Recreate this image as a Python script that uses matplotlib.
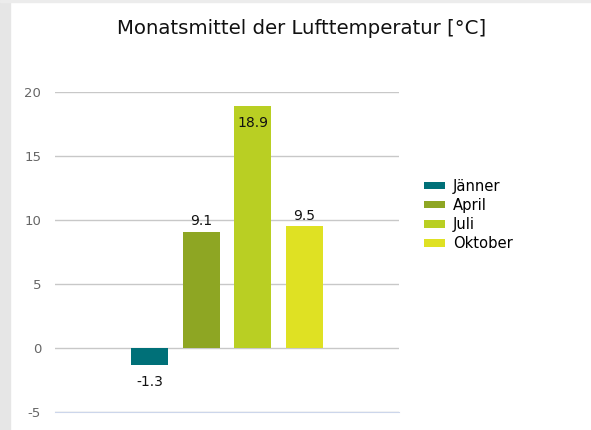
import matplotlib
matplotlib.use("Agg")
import matplotlib.pyplot as plt
from matplotlib.patches import Rectangle
import numpy as np

plt.rcParams["axes.unicode_minus"] = False

# data
months = ["Jänner", "April", "Juli", "Oktober"]
temps = [-1.3, 9.1, 18.9, 9.5]
colors = ["#007078", "#8ea623", "#b9cf23", "#dfe123"]
yticks = [-5, 0, 5, 10, 15, 20]

fig = plt.figure(figsize=(5.91, 4.30), dpi=100)
fig.patches.append(Rectangle((0, 0), 10 / 591, 1, transform=fig.transFigure,
                             color="#e6e6e6", zorder=0))
fig.patches.append(Rectangle((0, 1 - 2 / 430), 1, 2 / 430, transform=fig.transFigure,
                             color="#ececec", zorder=0))

ax = fig.add_axes([55 / 591, 1 - 412 / 430, 344 / 591, 320 / 430])

n = len(months)
offsets = np.arange(n) - (n - 1) / 2
width = 0.716
for off, m, t, c in zip(offsets, months, temps, colors):
    ax.bar(off, t, width=width, color=c, label=m, zorder=2)
    if t < 0:
        ax.text(off, t - 0.8, f"{t}", ha="center", va="top", fontsize=10, color="#111")
    elif t > 17:
        ax.text(off, t - 0.8, f"{t}", ha="center", va="top", fontsize=10, color="#111")
    else:
        ax.text(off, t + 0.25, f"{t}", ha="center", va="bottom", fontsize=10, color="#111")

ax.set_xlim(-3.33, 3.33)
ax.set_ylim(-5, 20)
ax.set_yticks(yticks)
ax.yaxis.grid(True, color="#c8c8c8", lw=1, zorder=0)
ax.set_xticks([])
for s in ["top", "right", "left"]:
    ax.spines[s].set_visible(False)
ax.spines["bottom"].set_color("#ccd6eb")
ax.spines["bottom"].set_zorder(3)
ax.tick_params(axis="y", length=0, pad=10, labelsize=9.5, labelcolor="#666666")
ax.set_facecolor("none")

fig.text(302 / 591, 1 - 28 / 430, "Monatsmittel der Lufttemperatur [°C]",
         ha="center", va="center", fontsize=14.2, color="#111")

leg = fig.legend(loc="center left", bbox_to_anchor=(411 / 591, 1 - 215 / 430),
                 frameon=False, fontsize=10.6, handlelength=1.44, handleheight=0.4,
                 handletextpad=0.5, labelspacing=0.28)

fig.savefig("out.png", dpi=100)
